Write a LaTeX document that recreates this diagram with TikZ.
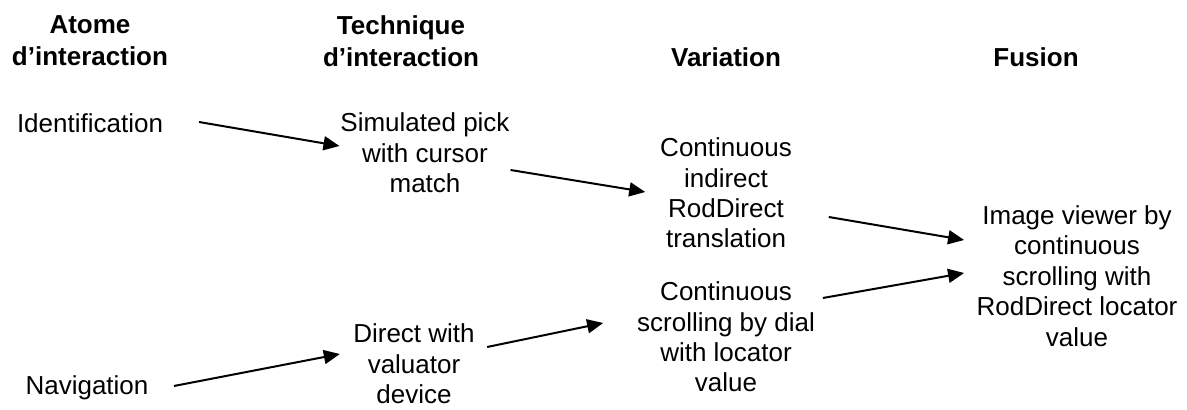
\documentclass[tikz,border=0pt]{standalone}
\usepackage{fontspec}
\setmainfont{Liberation Sans}
\usetikzlibrary{arrows.meta}
\tikzset{
  every picture/.style={font=\fontsize{13pt}{15.2pt}\selectfont, line width=1pt},
  lbl/.style={align=center, inner sep=0pt},
  head/.style={lbl, font=\fontsize{13pt}{16pt}\selectfont\bfseries},
  arrow/.style={-{Triangle[length=8pt, width=7pt]}, draw=black, line width=1pt},
}
\begin{document}
\begin{tikzpicture}[x=0.5pt, y=-0.5pt]
  \useasboundingbox (0,0) rectangle (1187,410);
  \node[head] (h1) at (90,41) {Atome\\d’interaction};
  \node[head] (h2) at (401,41) {Technique\\d’interaction};
  \node[head] (h3) at (726,57) {Variation};
  \node[head] (h4) at (1036,57) {Fusion};
  \node[lbl] (ident) at (90,123) {Identification};
  \node[lbl] (nav) at (87,388) {Navigation};
  \node[lbl] (pick) at (425,153) {Simulated pick\\with cursor\\match};
  \node[lbl] (direct) at (414,364) {Direct with\\valuator\\device};
  \node[lbl] (indir) at (726,193) {Continuous\\indirect\\RodDirect\\translation};
  \node[lbl] (scroll) at (726,337) {Continuous\\scrolling by dial\\with locator\\value};
  \node[lbl] (viewer) at (1077,276) {Image viewer by\\continuous\\scrolling with\\RodDirect locator\\value};
  \draw[arrow] ([xshift=17.5pt, yshift=0.5pt]ident.east) -- ([yshift=3.5pt]pick.west);
  \draw[arrow] ([xshift=12.25pt, yshift=1pt]nav.east) -- ([xshift=-6.25pt, yshift=5pt]direct.west);
  \draw[arrow] ([yshift=-8.5pt]pick.east) -- ([xshift=-7pt, yshift=0.5pt]indir.west);
  \draw[arrow] ([xshift=5.75pt, yshift=8.5pt]direct.east) -- ([xshift=-16.5pt, yshift=7pt]scroll.west);
  \draw[arrow] ([xshift=18pt, yshift=-12pt]indir.east) -- ([xshift=-5.75pt, yshift=18pt]viewer.west);
  \draw[arrow] ([xshift=3.5pt, yshift=19.5pt]scroll.east) -- ([xshift=-5.75pt, yshift=1.5pt]viewer.west);
\end{tikzpicture}
\end{document}
